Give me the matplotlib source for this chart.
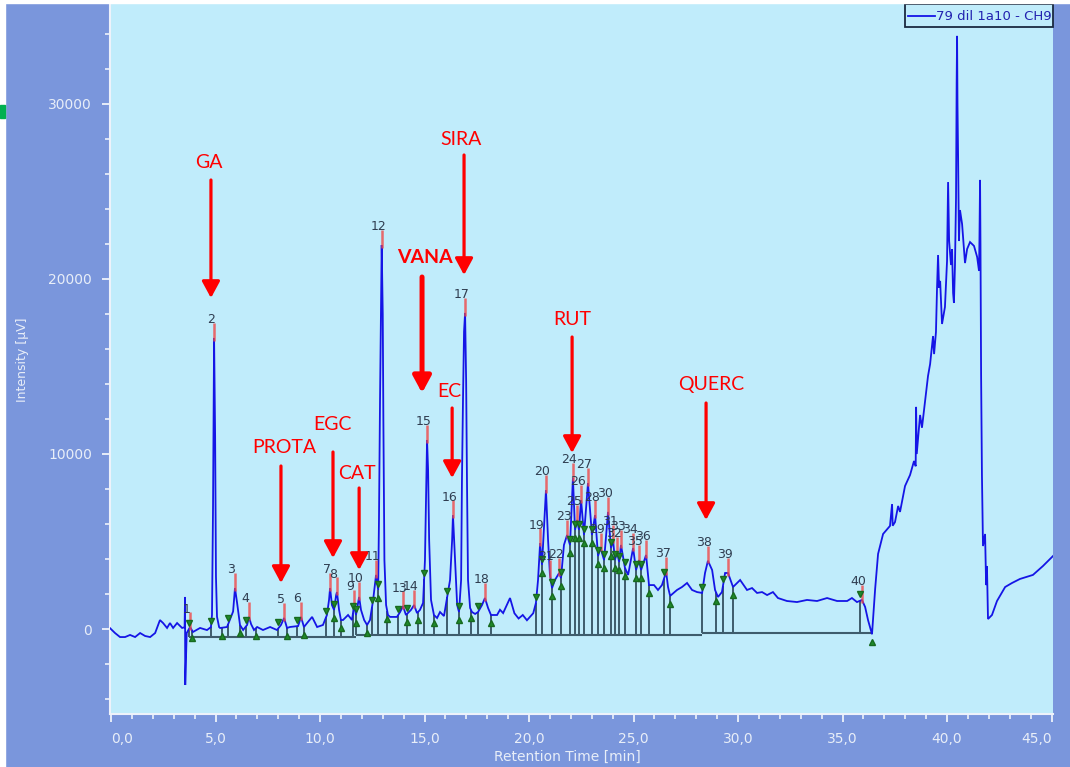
import numpy as np
import matplotlib
matplotlib.use("Agg")
import matplotlib.pyplot as plt
from matplotlib.patches import Rectangle
from matplotlib.lines import Line2D
from matplotlib.ticker import MultipleLocator

# ---------------- data ----------------
trace_t = [-0.05, 0.19, 0.43, 0.67, 0.91, 1.15, 1.39, 1.63, 1.87, 2.11, 2.34, 2.49, 2.68, 2.82,
           2.97, 3.16, 3.40, 3.52, 3.54, 3.55, 3.62, 3.78, 3.92, 4.26, 4.59, 4.78, 4.83, 4.88,
           4.93, 4.98, 5.02, 5.07, 5.17, 5.22, 5.55, 5.84, 5.93, 6.03, 6.17, 6.32, 6.51, 6.60,
           6.70, 6.84, 6.99, 7.27, 7.61, 7.94, 8.13, 8.28, 8.42, 8.56, 8.95, 9.09, 9.23, 9.38,
           9.62, 9.86, 10.14, 10.33, 10.43, 10.48, 10.57, 10.67, 10.77, 10.81, 10.91, 11.00,
           11.10, 11.34, 11.53, 11.63, 11.72, 11.87, 11.96, 12.11, 12.25, 12.39, 12.54, 12.68,
           12.78, 12.82, 12.87, 12.95, 13.00, 13.03, 13.08, 13.16, 13.25, 13.35, 13.68, 13.83,
           13.97, 14.11, 14.35, 14.50, 14.64, 14.78, 14.93, 15.02, 15.07, 15.12, 15.17, 15.22,
           15.31, 15.45, 15.60, 15.74, 15.93, 16.22, 16.32, 16.36, 16.46, 16.56, 16.65, 16.75,
           16.79, 16.84, 16.89, 16.94, 16.99, 17.03, 17.08, 17.18, 17.27, 17.42, 17.56, 17.75,
           17.89, 18.04, 18.18, 18.47, 18.61, 18.76, 19.09, 19.30, 19.50, 19.70, 19.90, 20.05,
           20.20, 20.33, 20.43, 20.53, 20.62, 20.81, 20.91, 21.00, 21.10, 21.24, 21.44, 21.53,
           21.67, 21.82, 21.96, 22.10, 22.20, 22.30, 22.39, 22.49, 22.63, 22.82, 23.01, 23.16,
           23.30, 23.42, 23.59, 23.78, 23.92, 24.02, 24.11, 24.21, 24.31, 24.40, 24.59, 24.74,
           24.98, 25.12, 25.26, 25.36, 25.60, 25.74, 25.98, 26.17, 26.36, 26.56, 26.65, 26.75,
           27.08, 27.32, 27.56, 27.80, 28.04, 28.28, 28.42, 28.56, 28.76, 28.90, 29.04, 29.23,
           29.38, 29.52, 29.76, 30.10, 30.43, 30.67, 30.91, 31.15, 31.39, 31.67, 31.91, 32.34,
           32.82, 33.30, 33.78, 34.26, 34.74, 35.22, 35.45, 35.69, 35.93, 36.08, 36.22, 36.41,
           36.56, 36.70, 36.94, 37.27, 37.37, 37.40, 37.51, 37.66, 37.75, 37.99, 38.23, 38.42,
           38.50, 38.52, 38.55, 38.61, 38.71, 38.80, 38.95, 39.09, 39.19, 39.33, 39.38, 39.47,
           39.52, 39.57, 39.62, 39.67, 39.76, 39.90, 40.00, 40.05, 40.10, 40.19, 40.24, 40.29,
           40.33, 40.38, 40.43, 40.46, 40.48, 40.50, 40.53, 40.57, 40.62, 40.72, 40.86, 40.96,
           41.10, 41.29, 41.44, 41.53, 41.55, 41.58, 41.60, 41.63, 41.67, 41.72, 41.82, 41.87,
           41.91, 41.96, 42.15, 42.39, 42.78, 43.11, 43.49, 44.11, 44.59, 45.07]
trace_I = [50, -230, -460, -460, -340, -460, -230, -400, -460, -230, 510, 340, 60, 340,
           60, 340, 60, 100, 1830, -3200, -230, 110, -170, 60, -60, 110, 800, 7000,
           16630, 11000, 3000, 700, 110, 57, 114, 1000, 2340, 1500, 230, -57, 230, 690,
           280, -57, 114, -57, 114, -57, 230, 630, 57, 114, 170, 690, 114, 340,
           690, 114, 230, 800, 1660, 2340, 1370, 1090, 1940, 2110, 1090, 514,
           514, 800, 514, 1370, 800, 1830, 1090, 514, 230, 514, 1660, 3090,
           2230, 6230, 13090, 21940, 18000, 11940, 3940, 1370, 800, 690, 690, 970,
           1310, 800, 1090, 1370, 910, 1090, 1490, 3940, 7370, 10800, 9090, 5090,
           1660, 800, 630, 970, 740, 2800, 5090, 6510, 3940, 1370, 970, 2800,
           8510, 13090, 17000, 18060, 14200, 8510, 2800, 1200, 970, 860, 970, 1370,
           1770, 1200, 800, 800, 1100, 910, 1770, 900, 600, 800, 500, 700,
           900, 1490, 2800, 4910, 3660, 7940, 5090, 3090, 2340, 2800, 3200, 2910,
           4800, 5370, 4800, 8630, 5660, 6230, 5660, 7370, 5370, 8340, 5370, 6510,
           4170, 4630, 3940, 6690, 4630, 5090, 3940, 4400, 3830, 4800, 3490, 3090,
           4630, 3370, 3940, 3370, 4230, 2510, 2510, 2230, 2510, 3260, 2400, 1890,
           2230, 2400, 2630, 2230, 2110, 2060, 3200, 3900, 3370, 2230, 1830, 2110,
           3200, 3200, 2400, 2800, 2230, 2340, 2060, 2110, 1940, 2110, 1770, 1600,
           1540, 1660, 1600, 1770, 1600, 1600, 1770, 1540, 1660, 1260, 510, -300,
           2290, 4290, 5430, 5890, 7140, 5900, 6110, 7030, 6690, 8170, 8800, 9600,
           9300, 12690, 10000, 10860, 12230, 11500, 13030, 14460, 15140, 16740, 15710, 16970,
           19430, 21370, 19500, 19890, 17430, 18400, 21030, 25540, 22170, 20800, 21710, 19200,
           18630, 20800, 24630, 31200, 33890, 30000, 26910, 22170, 23940, 23140, 20910, 21710,
           22110, 21890, 21260, 20460, 22170, 25660, 22000, 14460, 8800, 4740, 5430, 2510,
           3600, 570, 800, 1600, 2400, 2630, 2860, 3090, 3600, 4170]

peak_numbers = list(range(1, 41))
peak_t = [3.78, 4.93, 5.93, 6.60, 8.28, 9.09, 10.48, 10.81, 11.63, 11.87, 12.68, 12.95,
          13.97, 14.50, 15.12, 16.36, 16.94, 17.89, 20.53, 20.81, 21.00, 21.44, 21.82, 22.10,
          22.30, 22.49, 22.82, 23.16, 23.42, 23.78, 24.02, 24.21, 24.40, 24.98, 25.26, 25.60,
          26.56, 28.56, 29.52, 35.93]
peak_I = [110, 16630, 2340, 690, 630, 690, 2340, 2110, 1370, 1830, 3090, 21940,
          1310, 1370, 10800, 6510, 18060, 1770, 4910, 7940, 3090, 3200, 5370, 8630,
          6230, 7370, 8340, 6510, 4630, 6690, 5090, 4400, 4800, 4630, 3940, 4230,
          3260, 3900, 3200, 1660]

peak_starts = [3.72, 4.78, 5.60, 6.46, 7.99, 8.90, 10.29, 10.67, 11.58, 11.72, 12.49, 12.78,
               13.73, 14.16, 14.98, 16.08, 16.65, 17.56, 20.33, 20.62, 21.10, 21.53, 21.96,
               22.20, 22.39, 22.63, 23.01, 23.30, 23.59, 23.92, 24.11, 24.31, 24.59, 25.12,
               25.36, 26.46, 28.28, 29.28, 35.84]
peak_ends = [3.85, 5.31, 6.17, 6.94, 8.42, 9.23, 10.67, 11.00, 11.72, 12.25, 12.78, 13.21,
             14.16, 14.69, 15.45, 16.65, 17.22, 18.18, 20.62, 21.10, 21.53, 21.96, 22.20,
             22.39, 22.63, 23.01, 23.30, 23.59, 23.92, 24.11, 24.31, 24.59, 25.12, 25.36,
             25.74, 26.75, 28.95, 29.76, 36.41]

baseline_breaks = [3.72, 11.72, 28.28, 36.41]
baseline_levels = [-440, -340, -210]

compound_names = ["GA", "PROTA", "EGC", "CAT", "VANA", "EC", "SIRA", "RUT", "QUERC"]
compound_text_t = [4.69, 8.28, 10.57, 11.77, 15.02, 16.17, 16.75, 22.06, 28.71]
compound_text_I = [26685, 10343, 11714, 8914, 21200, 13543, 27943, 17657, 13943]
compound_arrow_t = [4.78, 8.13, 10.62, 11.87, 14.88, 16.32, 16.89, 22.06, 28.47]
compound_tail_I = [25657, 9314, 10114, 8057, 20114, 12628, 27085, 16685, 12914]
compound_tip_I = [18914, 2628, 4057, 3371, 13485, 8628, 20228, 10057, 6228]

x_ticks = [0, 5, 10, 15, 20, 25, 30, 35, 40, 45]
x_tick_labels = ["0,0", "5,0", "10,0", "15,0", "20,0", "25,0", "30,0", "35,0", "40,0", "45,0"]
y_ticks = [0, 10000, 20000, 30000]
legend_label = "79 dil 1a10 - CH9"

# ---------------- figure ----------------
W, H = 1070, 767
fig = plt.figure(figsize=(W / 100, H / 100), dpi=100, facecolor="#7A96DC")
ax = fig.add_axes([110 / W, (H - 714) / H, 943 / W, 711 / H])
ax.set_facecolor("#C0ECFB")
ax.set_xlim(-0.05, 45.07)
ax.set_ylim(-4857, 35771)

# white strips + small green mark on the figure
fig.add_artist(Rectangle((0, 1 - 3 / H), 1, 3 / H, transform=fig.transFigure,
                         color="white", zorder=20))
fig.add_artist(Rectangle((0, 0), 5 / W, 1, transform=fig.transFigure,
                         color="white", zorder=20))
fig.add_artist(Rectangle((0, (H - 118) / H), 5 / W, 13 / H, transform=fig.transFigure,
                         color="#00B050", zorder=21))

tr_t = np.array(trace_t)
tr_I = np.array(trace_I)


def base_at(t):
    for i in range(len(baseline_levels)):
        if t < baseline_breaks[i + 1] or i == len(baseline_levels) - 1:
            return baseline_levels[i]


# baseline segments
line_col = "#3E5C6C"
for i, lvl in enumerate(baseline_levels):
    ax.hlines(lvl, baseline_breaks[i], baseline_breaks[i + 1], colors=line_col, lw=1.5, zorder=2)

# drop lines
bounds = sorted(set(peak_starts) | set(peak_ends))
b_sig = np.interp(bounds, tr_t, tr_I)
ax.vlines(bounds, [base_at(b) for b in bounds], b_sig, colors=line_col, lw=1.4, zorder=2)

# chromatogram trace
ax.plot(tr_t, tr_I, color="#1515E6", lw=1.3, zorder=3, solid_joinstyle="miter")

# apex marks
pk_t = np.array(peak_t)
pk_I = np.array(peak_I)
ax.vlines(pk_t, pk_I - 150, pk_I + 850, colors="#F04848", lw=1.8, alpha=0.8, zorder=4)

# start / end markers
s_sig = np.interp(peak_starts, tr_t, tr_I)
e_sig = np.interp(peak_ends, tr_t, tr_I)
ax.plot(peak_starts, s_sig + 360, linestyle="none", marker="v", ms=5,
        color="#1F8A2A", mec="#176A1F", zorder=5)
ax.plot(peak_ends, e_sig - 460, linestyle="none", marker="^", ms=5,
        color="#1F8A2A", mec="#176A1F", zorder=5)

# peak numbers
for n, t, v in zip(peak_numbers, peak_t, peak_I):
    ax.annotate(str(n), (t, v), xytext=(-2.5, 13), textcoords="offset points",
                ha="center", va="center", fontsize=9, color="#2F3D50", zorder=6)

# compound annotations
for name, tx, ty, ax_t, tail, tip in zip(compound_names, compound_text_t, compound_text_I,
                                         compound_arrow_t, compound_tail_I, compound_tip_I):
    bold = name == "VANA"
    ax.text(tx, ty, name, ha="center", va="center", color="#FF0000", fontsize=14,
            family=["Lato", "DejaVu Sans"], fontweight="bold" if bold else "normal", zorder=8)
    ax.annotate("", xy=(ax_t, tip), xytext=(ax_t, tail),
                arrowprops=dict(arrowstyle="-|>,head_length=0.5,head_width=0.27",
                                mutation_scale=20, color="#FF0000",
                                lw=3.6 if bold else 2.3, shrinkA=0, shrinkB=0),
                zorder=8)

# axes styling
for s in ("top", "right"):
    ax.spines[s].set_visible(False)
for s in ("left", "bottom"):
    ax.spines[s].set_color("#EEF2FA")
    ax.spines[s].set_linewidth(1.5)

ax.set_xticks(x_ticks, x_tick_labels)
ax.set_yticks(y_ticks, [str(v) for v in y_ticks])
ax.xaxis.set_minor_locator(MultipleLocator(1))
ax.yaxis.set_minor_locator(MultipleLocator(2000))
ax.tick_params(which="major", direction="out", length=6, width=1.3, color="#EEF2FA",
               labelcolor="#E8EEF8", labelsize=10, pad=7)
ax.tick_params(which="minor", direction="out", length=3.5, width=1.2, color="#EEF2FA")
xl = ax.get_xticklabels()
xl[0].set_ha("left")
xl[-1].set_ha("right")

fig.text(567 / W, 1 - 757 / H, "Retention Time [min]", ha="center", va="center",
         color="#E8EEF8", fontsize=10, family=["Liberation Sans Narrow", "DejaVu Sans"])
fig.text(23 / W, 1 - 360 / H, "Intensity [\u00b5V]", ha="center", va="center",
         rotation=90, color="#E8EEF8", fontsize=9)

# legend box (top right)
ax.add_patch(Rectangle((0.843, 0.9662), 0.157, 0.0324, transform=ax.transAxes,
                       facecolor="#C0ECFB", edgecolor="#1A2A40", lw=1.3, zorder=10,
                       clip_on=False))
ax.add_line(Line2D([0.846, 0.875], [0.9817, 0.9817], transform=ax.transAxes,
                   color="#1515E6", lw=1.3, zorder=11))
ax.text(0.876, 0.9817, legend_label, transform=ax.transAxes, ha="left", va="center",
        fontsize=9.5, color="#2222B0", zorder=11)

fig.savefig("out.png", dpi=100, facecolor=fig.get_facecolor())
